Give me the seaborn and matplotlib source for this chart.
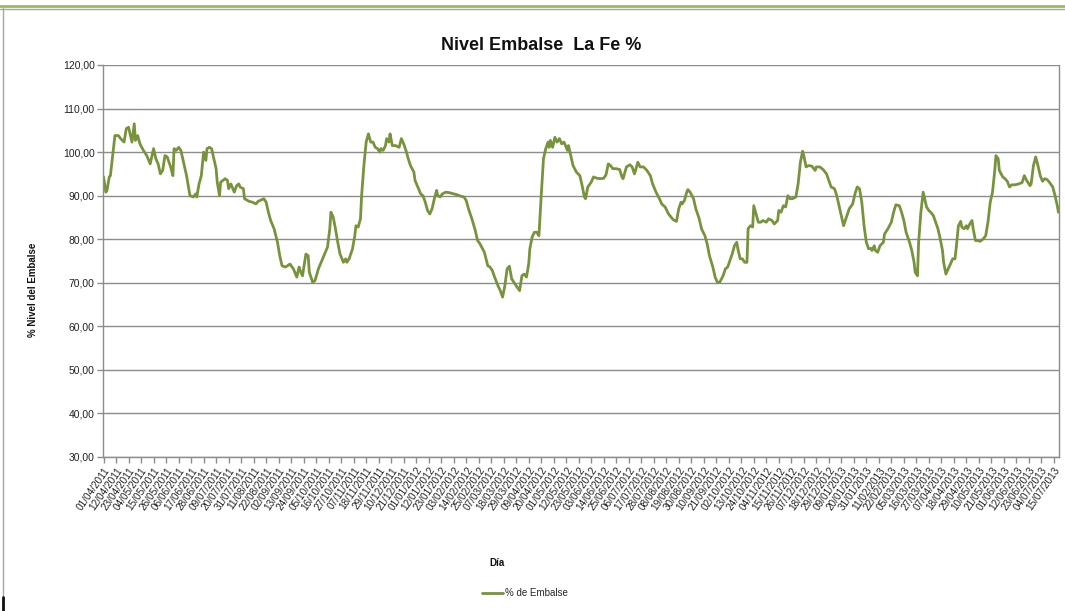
import matplotlib
matplotlib.use("Agg")
import matplotlib.pyplot as plt
from matplotlib.lines import Line2D
from matplotlib.ticker import FuncFormatter
import seaborn as sns
import pandas as pd

# ---------------- data ----------------
start_date = "2011-04-01"
day_offsets = [
    0, 2, 3, 5, 6, 8, 10, 13, 15, 18, 20, 22, 24, 25, 27, 28, 30, 32, 35, 38, 41, 42, 44, 46, 48, 50, 52, 54, 56, 57, 59,
    61, 62, 64, 66, 68, 71, 73, 76, 79, 81, 82, 84, 86, 88, 90, 91, 93, 95, 97, 99, 100, 102, 103, 105, 107, 109, 110,
    112, 115, 117, 119, 120, 123, 124, 128, 131, 134, 136, 141, 143, 145, 147, 150, 153, 155, 157, 160,
    164, 167, 170, 172, 173, 175, 178, 180, 181, 184, 186, 189, 192, 195, 197, 199, 200, 202, 204, 206, 208, 211, 213,
    214, 216, 219, 221, 222, 224, 226, 227, 229, 231, 233, 235, 237, 239, 241, 243, 244, 246, 248, 249, 251, 252, 254,
    257, 260, 262, 264, 266, 268, 270, 273, 274, 277, 279, 281, 283, 285, 287, 289, 291, 293, 294, 296, 298, 301, 304,
    308, 311, 314, 317, 319, 321, 324, 327, 329,
    331, 335, 338, 340, 342, 344, 347, 349, 351, 353, 355, 357, 359, 361, 363, 366, 368, 370, 372, 374, 375, 377, 379,
    381, 383, 385, 387, 389, 391, 392, 393, 395, 397, 399, 401, 403, 405, 407, 408, 409, 411, 413, 416, 419, 421, 423,
    424, 426, 429, 431, 434, 437, 440, 442, 444, 446, 448, 451, 454, 456, 457, 460, 463, 465, 467, 468, 470, 472, 475,
    478, 481, 483, 486, 489, 491, 494,
    497, 501, 504, 506, 508, 509, 511, 513, 514, 516, 519, 521, 524, 526, 529, 531, 533, 536, 538, 540, 542, 545, 547,
    549, 551, 553, 555, 557, 558, 560, 562, 564, 566, 567, 569, 571, 572, 574, 576, 578, 580, 583, 585, 588, 590, 593,
    594, 596, 598, 600, 602, 604, 606, 609, 611, 613, 615, 616, 618, 620, 623, 626, 627, 630, 633, 636, 638, 640, 643,
    645, 647, 649, 651, 653, 656, 659, 661, 663,
    665, 667, 669, 671, 673, 675, 676, 678, 679, 681, 683, 686, 687, 690, 693, 695, 697, 700, 702, 704, 706, 709, 711,
    713, 714, 716, 717, 719, 721, 722, 724, 726, 728, 730, 732, 734, 736, 738, 739, 741, 743, 745, 747, 749, 750, 752,
    754, 755, 757, 759, 760, 762, 764, 765, 767, 769, 771, 774, 776, 778, 780, 782, 784, 785, 787, 788, 791, 793, 795,
    797, 799, 802, 805, 808, 810, 812, 815, 816, 818, 820, 822, 824, 826, 828, 830, 832, 835, 837, 839, 840,
]
nivel_embalse = [
    94.3, 90.8, 91.2, 94.3, 94.6, 99.2, 103.8, 103.8, 103.1, 102.3, 105.4, 105.7, 103.4, 102.3, 106.5, 102.7, 103.8,
    101.9, 100.4, 99.2, 97.3, 98.5, 100.8, 98.5, 97.3, 95.0, 95.8, 99.2, 98.9, 98.1, 96.6, 94.6, 100.8, 100.4, 101.1,
    100.4, 96.9, 94.6, 90.0, 89.7, 90.4, 89.7, 92.7, 94.6, 100.0, 98.1, 100.8, 101.1, 100.8, 98.5, 96.2, 93.1, 90.0,
    93.1, 93.5, 93.9, 93.5, 91.6, 92.7, 90.8, 92.3, 92.7, 92.0, 91.6, 89.3, 88.7, 88.5, 88.1, 88.7, 89.3, 88.5, 86.2,
    84.3, 82.4, 79.3, 76.2, 73.9, 73.6,
    74.3, 73.2, 71.3, 73.6, 72.8, 71.6, 76.6, 76.2, 72.4, 70.1, 70.5, 73.2, 75.1, 77.0, 78.2, 82.4, 86.2, 85.1, 82.4,
    79.3, 76.6, 74.7, 75.5, 74.7, 75.5, 77.8, 80.8, 83.1, 82.8, 84.7, 90.0, 96.9, 102.3, 104.2, 102.3, 102.3, 101.1,
    100.8, 100.0, 100.8, 100.4, 101.5, 103.1, 102.3, 104.2, 101.5, 101.5, 101.1, 103.1, 101.9, 100.4, 98.5, 96.9, 95.4,
    93.5, 91.6, 90.4, 90.0, 88.5, 86.6, 85.8, 87.0, 89.3, 91.2, 90.0, 89.7, 90.4, 90.8, 90.7, 90.4, 90.2, 89.9, 89.7,
    88.9, 87.0, 84.7, 82.0, 79.7,
    79.0, 77.0, 73.9, 73.6, 72.8, 71.3, 69.3, 68.2, 66.7, 69.3, 73.2, 73.8, 70.9, 70.1, 69.3, 68.2, 71.6, 72.0, 71.3,
    74.3, 77.8, 80.5, 81.6, 81.6, 80.8, 90.0, 98.5, 100.8, 102.3, 101.1, 102.7, 101.1, 103.4, 102.3, 103.1, 101.9,
    102.3, 101.1, 100.4, 101.5, 99.2, 96.9, 95.4, 94.6, 92.3, 89.7, 89.3, 92.0, 93.1, 94.3, 94.0, 93.9, 94.0, 94.8,
    97.3, 96.9, 96.2, 96.2, 96.0, 94.3, 93.9, 96.6, 97.1, 96.6, 95.0, 95.8, 97.7, 96.6, 96.6, 95.8, 94.6, 92.7, 90.8,
    89.3, 88.1, 87.4,
    85.8, 84.5, 84.1, 87.0, 88.5, 88.1, 88.9, 90.8, 91.4, 90.8, 89.3, 87.0, 84.7, 82.4, 80.8, 78.9, 76.2, 73.6, 71.3,
    70.1, 70.1, 71.6, 73.2, 73.6, 75.1, 76.6, 78.5, 79.3, 77.8, 75.5, 75.5, 74.7, 74.7, 82.4, 83.1, 82.8, 87.7, 85.8,
    83.9, 83.9, 84.3, 83.9, 84.7, 84.3, 83.5, 84.3, 86.6, 86.2, 87.7, 87.4, 90.0, 89.3, 89.3, 89.7, 92.7, 97.7, 100.2,
    99.2, 96.6, 96.9, 96.8, 95.8, 96.6, 96.6, 96.0, 95.0, 93.5, 92.0, 91.6, 90.0, 87.7, 85.4, 83.1, 84.7, 87.0, 88.1,
    90.4, 92.0,
    91.6, 88.5, 83.1, 79.3, 77.8, 77.9, 77.4, 78.5, 77.4, 77.0, 78.5, 79.3, 81.2, 82.4, 83.9, 86.2, 87.9, 87.7, 86.2,
    84.3, 81.6, 79.3, 77.4, 74.7, 72.4, 71.6, 79.3, 86.2, 90.8, 89.7, 87.4, 86.6, 86.1, 85.4, 83.9, 82.4, 80.1, 77.4,
    74.7, 72.0, 73.2, 74.3, 75.5, 75.5, 77.8, 83.1, 84.1, 82.8, 82.4, 83.1, 82.4, 83.5, 84.3, 82.4, 79.7, 79.7, 79.5,
    80.1, 80.8, 83.9, 88.5, 90.8, 95.8, 99.2, 98.5, 95.8, 94.3, 93.9, 93.3, 92.0, 92.5, 92.5, 92.7, 93.0, 94.6, 93.5,
    92.3, 92.7, 96.9, 98.9, 96.9, 94.6, 93.3, 93.9, 93.7, 93.1, 92.0, 90.0, 87.7, 86.2,
]
tick_start = "2011-04-01"
tick_end = "2013-07-15"
tick_step_days = 11
y_ticks = [30, 40, 50, 60, 70, 80, 90, 100, 110, 120]
title = "Nivel Embalse  La Fe %"
x_label = "Día"
y_label = "% Nivel del Embalse"
series_name = "% de Embalse"

# ---------------- build ----------------
fechas = pd.to_datetime(start_date) + pd.to_timedelta(day_offsets, unit="D")
df = pd.DataFrame({"Fecha": fechas, series_name: nivel_embalse})

sns.set_theme(style="white")
plt.rcParams["font.family"] = ["Liberation Sans Narrow", "Liberation Sans", "DejaVu Sans"]

W, H = 1065, 611
fig = plt.figure(figsize=(W / 100, H / 100), dpi=100)
ax = fig.add_axes([103 / W, 1 - 457 / H, (1059 - 103) / W, (457 - 65) / H])

line_color = "#77933C"
sns.lineplot(data=df, x="Fecha", y=series_name, ax=ax, color=line_color,
             linewidth=2.0, label=series_name, legend=False)

grid_c = "#8C8C8C"
ax.set_ylim(30, 120)
ax.set_yticks(y_ticks)
ax.yaxis.set_major_formatter(FuncFormatter(lambda v, p: f"{v:.2f}".replace(".", ",")))
ax.grid(axis="y", color=grid_c, linewidth=1.0)
ax.grid(axis="x", visible=False)

xt = pd.date_range(tick_start, tick_end, freq=f"{tick_step_days}D")
ax.set_xticks(xt)
ax.set_xticklabels([d.strftime("%d/%m/%Y") for d in xt], rotation=55,
                   ha="right", rotation_mode="anchor", fontsize=7.2, color="#222222")
ax.set_xlim(pd.to_datetime(start_date) - pd.Timedelta(days=0.5),
            pd.to_datetime(start_date) + pd.Timedelta(days=max(day_offsets) + 0.5))

for lab in ax.get_yticklabels():
    lab.set_fontsize(7.5)
    lab.set_color("#222222")

ax.tick_params(axis="both", which="major", direction="out", length=4, width=1,
               color=grid_c, pad=2, bottom=True, left=True)
for side in ["left", "bottom", "right"]:
    ax.spines[side].set_color(grid_c)
    ax.spines[side].set_linewidth(1.0)
ax.spines["top"].set_visible(False)
ax.set_xlabel("")
ax.set_ylabel("")

fig.text(541 / W, 1 - 45 / H, title, ha="center", va="center", fontsize=13, fontweight="bold", color="#111111")
fig.text(497 / W, 1 - 563 / H, x_label, ha="center", va="center", fontsize=7, fontweight="bold", color="#111111")
fig.text(33 / W, 1 - 290 / H, y_label, ha="center", va="center", rotation=90, fontsize=7, fontweight="bold",
         color="#111111")

handles, labels = ax.get_legend_handles_labels()
fig.legend(handles, labels, loc="center", bbox_to_anchor=(525 / W, 1 - 593 / H), frameon=False,
           fontsize=7, handlelength=2.2, handletextpad=0.2)

# chart area frame decoration
fig.add_artist(Line2D([0, 1], [1 - 6 / H, 1 - 6 / H], color="#9BBB59", lw=2.0))
fig.add_artist(Line2D([0, 1], [1 - 8.5 / H, 1 - 8.5 / H], color="#A6A6A6", lw=1.0))
fig.add_artist(Line2D([3 / W, 3 / W], [0, 1 - 8 / H], color="#A6A6A6", lw=1.0))
fig.add_artist(Line2D([3 / W, 3 / W], [0, 14 / H], color="#111111", lw=2.0))

fig.savefig("out.png", dpi=100)
